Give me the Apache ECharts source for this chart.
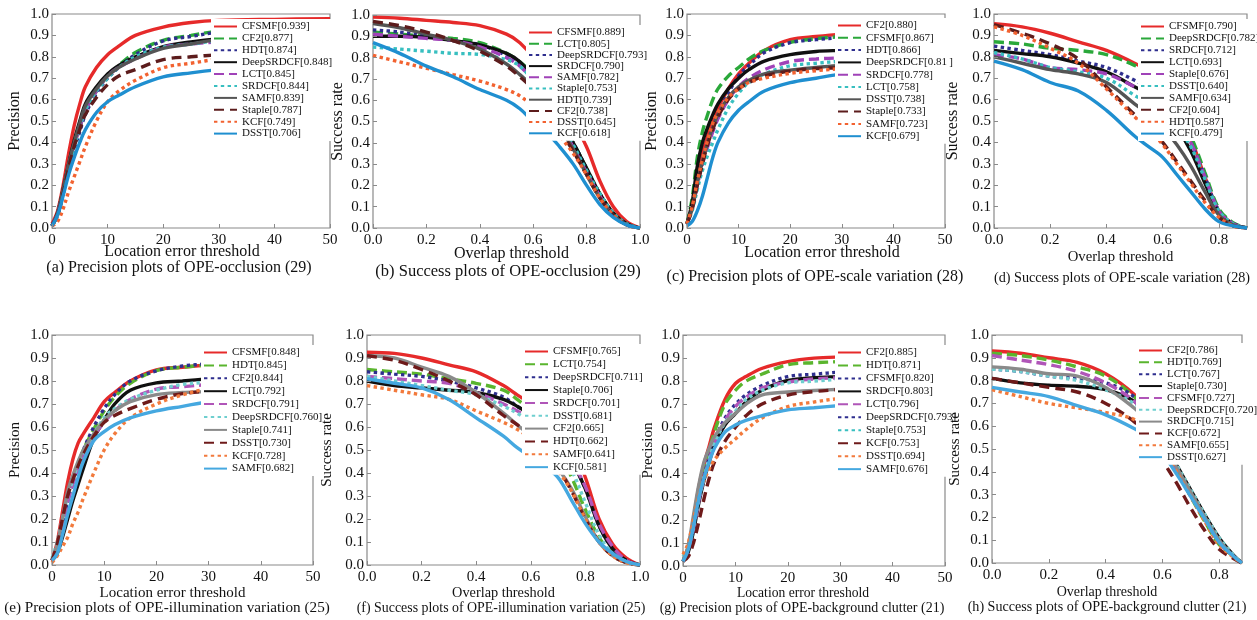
<!DOCTYPE html>
<html><head><meta charset="utf-8">
<script src="https://cdn.jsdelivr.net/npm/echarts@6/dist/echarts.min.js"></script>
<style>html,body{margin:0;padding:0;background:#fff}#c{width:1257px;height:620px}</style>
</head><body><div id="c"></div>
<script>
// ---------- x samples ----------
const precX = [0,1,2,3,4,5,6,8,10,12,15,20,25,30,40,50];
const succX = [0,0.1,0.2,0.3,0.4,0.5,0.55,0.6,0.65,0.7,0.75,0.8,0.85,0.9,0.95,1.0];
const succX09 = [0,0.1,0.2,0.3,0.4,0.5,0.55,0.6,0.65,0.7,0.75,0.8,0.85,0.9];
const succX088 = [0,0.1,0.2,0.3,0.4,0.5,0.55,0.6,0.65,0.7,0.75,0.8,0.85,0.88];

// ---------- (a) Precision plots of OPE-occlusion ----------
const aNames = ['CFSMF[0.939]','CF2[0.877]','HDT[0.874]','DeepSRDCF[0.848]','LCT[0.845]','SRDCF[0.844]','SAMF[0.839]','Staple[0.787]','KCF[0.749]','DSST[0.706]'];
const aValues = [
 [0.02,0.08,0.20,0.35,0.48,0.58,0.66,0.75,0.81,0.85,0.90,0.939,0.96,0.97,0.975,0.978],
 [0.01,0.06,0.17,0.29,0.39,0.47,0.55,0.64,0.71,0.76,0.82,0.877,0.90,0.92,0.935,0.942],
 [0.01,0.06,0.16,0.28,0.37,0.45,0.53,0.63,0.70,0.75,0.81,0.874,0.895,0.915,0.925,0.93],
 [0.01,0.07,0.18,0.30,0.41,0.50,0.58,0.66,0.72,0.76,0.80,0.848,0.87,0.885,0.905,0.92],
 [0.01,0.07,0.17,0.29,0.39,0.47,0.55,0.64,0.71,0.75,0.79,0.845,0.86,0.87,0.885,0.895],
 [0.01,0.06,0.16,0.28,0.38,0.47,0.55,0.64,0.70,0.75,0.80,0.844,0.86,0.875,0.885,0.89],
 [0.01,0.07,0.18,0.30,0.40,0.49,0.57,0.65,0.71,0.75,0.79,0.839,0.86,0.88,0.895,0.905],
 [0.01,0.06,0.16,0.28,0.38,0.46,0.53,0.61,0.67,0.71,0.74,0.787,0.80,0.81,0.83,0.845],
 [0.01,0.03,0.09,0.17,0.24,0.31,0.38,0.50,0.59,0.64,0.69,0.749,0.77,0.79,0.82,0.845],
 [0.01,0.06,0.15,0.25,0.33,0.40,0.46,0.54,0.59,0.62,0.66,0.706,0.725,0.74,0.765,0.785]
];
// ---------- (b) Success plots of OPE-occlusion ----------
const bNames = ['CFSMF[0.889]','LCT[0.805]','DeepSRDCF[0.793]','SRDCF[0.790]','SAMF[0.782]','Staple[0.753]','HDT[0.739]','CF2[0.738]','DSST[0.645]','KCF[0.618]'];
const bValues = [
 [0.99,0.985,0.975,0.965,0.95,0.91,0.87,0.80,0.70,0.60,0.50,0.38,0.22,0.10,0.03,0],
 [0.92,0.91,0.90,0.89,0.87,0.82,0.78,0.72,0.62,0.50,0.40,0.28,0.16,0.07,0.02,0],
 [0.93,0.92,0.90,0.88,0.86,0.81,0.77,0.71,0.61,0.50,0.40,0.28,0.16,0.07,0.02,0],
 [0.90,0.90,0.895,0.88,0.86,0.82,0.78,0.71,0.61,0.50,0.40,0.28,0.16,0.07,0.02,0],
 [0.91,0.90,0.89,0.88,0.85,0.80,0.76,0.69,0.59,0.48,0.38,0.26,0.15,0.06,0.015,0],
 [0.85,0.84,0.83,0.82,0.815,0.79,0.76,0.69,0.60,0.50,0.39,0.27,0.16,0.07,0.02,0],
 [0.96,0.94,0.91,0.88,0.84,0.77,0.72,0.66,0.57,0.47,0.37,0.25,0.14,0.06,0.015,0],
 [0.97,0.95,0.92,0.88,0.83,0.76,0.71,0.65,0.56,0.46,0.36,0.25,0.14,0.06,0.015,0],
 [0.81,0.78,0.75,0.72,0.69,0.65,0.62,0.57,0.50,0.43,0.35,0.25,0.14,0.06,0.015,0],
 [0.87,0.82,0.76,0.71,0.65,0.60,0.56,0.50,0.45,0.38,0.30,0.20,0.11,0.05,0.015,0]
];
// ---------- (c) Precision plots of OPE-scale variation ----------
const cNames = ['CF2[0.880]','CFSMF[0.867]','HDT[0.866]','DeepSRDCF[0.81\u2009]','SRDCF[0.778]','LCT[0.758]','DSST[0.738]','Staple[0.733]','SAMF[0.723]','KCF[0.679]'];
const cValues = [
 [0.02,0.10,0.24,0.35,0.43,0.50,0.56,0.65,0.72,0.77,0.83,0.88,0.895,0.905,0.915,0.92],
 [0.02,0.14,0.33,0.45,0.53,0.60,0.65,0.71,0.75,0.79,0.83,0.867,0.885,0.895,0.92,0.933],
 [0.02,0.10,0.22,0.32,0.40,0.47,0.53,0.63,0.71,0.76,0.82,0.866,0.88,0.89,0.90,0.91],
 [0.02,0.12,0.29,0.40,0.47,0.53,0.58,0.65,0.70,0.74,0.78,0.81,0.825,0.83,0.84,0.848],
 [0.02,0.09,0.20,0.30,0.38,0.45,0.51,0.60,0.66,0.70,0.74,0.778,0.79,0.795,0.80,0.805],
 [0.02,0.08,0.18,0.27,0.34,0.40,0.46,0.56,0.63,0.68,0.72,0.758,0.77,0.78,0.80,0.82],
 [0.02,0.09,0.21,0.31,0.40,0.47,0.53,0.61,0.66,0.69,0.72,0.738,0.75,0.76,0.77,0.78],
 [0.02,0.09,0.20,0.30,0.39,0.46,0.52,0.60,0.65,0.68,0.71,0.733,0.745,0.75,0.77,0.79],
 [0.02,0.10,0.22,0.32,0.41,0.49,0.54,0.61,0.65,0.68,0.70,0.723,0.735,0.745,0.765,0.785],
 [0.01,0.03,0.08,0.15,0.24,0.33,0.40,0.49,0.55,0.59,0.64,0.679,0.70,0.72,0.75,0.775]
];
// ---------- (d) Success plots of OPE-scale variation ----------
const dNames = ['CFSMF[0.790]','DeepSRDCF[0.782]','SRDCF[0.712]','LCT[0.693]','Staple[0.676]','DSST[0.640]','SAMF[0.634]','CF2[0.604]','HDT[0.587]','KCF[0.479]'];
const dValues = [
 [0.955,0.94,0.91,0.87,0.83,0.77,0.73,0.66,0.56,0.42,0.24,0.08,0.02,0],
 [0.87,0.86,0.84,0.83,0.81,0.76,0.72,0.65,0.55,0.43,0.26,0.09,0.025,0],
 [0.85,0.83,0.81,0.78,0.75,0.69,0.65,0.59,0.51,0.40,0.24,0.08,0.02,0],
 [0.83,0.815,0.80,0.77,0.73,0.66,0.62,0.55,0.47,0.36,0.21,0.07,0.02,0],
 [0.81,0.79,0.75,0.74,0.72,0.66,0.62,0.57,0.50,0.40,0.24,0.08,0.02,0],
 [0.82,0.79,0.75,0.73,0.70,0.62,0.58,0.53,0.47,0.38,0.23,0.08,0.02,0],
 [0.80,0.77,0.74,0.72,0.68,0.58,0.53,0.47,0.39,0.29,0.17,0.06,0.015,0],
 [0.95,0.91,0.86,0.79,0.66,0.53,0.47,0.40,0.31,0.22,0.13,0.05,0.01,0],
 [0.94,0.90,0.84,0.77,0.65,0.52,0.46,0.39,0.30,0.21,0.12,0.05,0.01,0],
 [0.78,0.74,0.68,0.64,0.55,0.43,0.38,0.33,0.25,0.17,0.09,0.03,0.01,0]
];
// ---------- (e) Precision plots of OPE-illumination variation ----------
const eNames = ['CFSMF[0.848]','HDT[0.845]','CF2[0.844]','LCT[0.792]','SRDCF[0.791]','DeepSRDCF[0.760]','Staple[0.741]','DSST[0.730]','KCF[0.728]','SAMF[0.682]'];
const eValues = [
 [0.02,0.10,0.23,0.36,0.46,0.53,0.57,0.64,0.71,0.75,0.80,0.848,0.86,0.87,0.89,0.905],
 [0.02,0.08,0.18,0.28,0.36,0.43,0.50,0.59,0.67,0.73,0.79,0.845,0.86,0.87,0.885,0.90],
 [0.02,0.08,0.18,0.28,0.36,0.43,0.50,0.60,0.68,0.74,0.80,0.844,0.865,0.875,0.89,0.905],
 [0.02,0.05,0.12,0.20,0.28,0.35,0.42,0.55,0.63,0.70,0.76,0.792,0.80,0.81,0.83,0.84],
 [0.02,0.08,0.17,0.27,0.35,0.42,0.48,0.56,0.62,0.67,0.72,0.765,0.775,0.785,0.80,0.81],
 [0.03,0.10,0.20,0.30,0.37,0.44,0.49,0.57,0.64,0.68,0.72,0.76,0.785,0.795,0.81,0.82],
 [0.02,0.09,0.20,0.32,0.39,0.45,0.50,0.57,0.63,0.67,0.71,0.741,0.75,0.755,0.77,0.78],
 [0.02,0.09,0.20,0.30,0.37,0.43,0.48,0.56,0.62,0.65,0.68,0.72,0.745,0.755,0.765,0.775],
 [0.01,0.04,0.08,0.12,0.18,0.23,0.29,0.40,0.50,0.57,0.64,0.70,0.74,0.765,0.78,0.79],
 [0.02,0.05,0.13,0.22,0.30,0.38,0.45,0.54,0.58,0.61,0.64,0.67,0.69,0.71,0.735,0.755]
];
// ---------- (f) Success plots of OPE-illumination variation ----------
const fNames = ['CFSMF[0.765]','LCT[0.754]','DeepSRDCF[0.711]','Staple[0.706]','SRDCF[0.701]','DSST[0.681]','CF2[0.665]','HDT[0.662]','SAMF[0.641]','KCF[0.581]'];
const fValues = [
 [0.925,0.92,0.90,0.87,0.84,0.78,0.74,0.70,0.64,0.58,0.52,0.38,0.20,0.09,0.03,0],
 [0.85,0.84,0.83,0.81,0.79,0.76,0.72,0.67,0.60,0.50,0.38,0.24,0.12,0.05,0.015,0],
 [0.84,0.83,0.82,0.80,0.77,0.73,0.69,0.65,0.59,0.52,0.45,0.33,0.17,0.07,0.02,0],
 [0.80,0.78,0.77,0.76,0.75,0.72,0.69,0.65,0.59,0.52,0.45,0.33,0.17,0.07,0.02,0],
 [0.82,0.81,0.80,0.79,0.75,0.70,0.67,0.63,0.58,0.52,0.45,0.34,0.18,0.08,0.02,0],
 [0.82,0.80,0.78,0.76,0.74,0.69,0.66,0.62,0.56,0.49,0.41,0.27,0.13,0.05,0.015,0],
 [0.91,0.90,0.86,0.82,0.75,0.66,0.61,0.56,0.49,0.42,0.33,0.21,0.10,0.04,0.01,0],
 [0.91,0.89,0.85,0.80,0.74,0.65,0.61,0.56,0.49,0.42,0.32,0.20,0.10,0.04,0.01,0],
 [0.78,0.76,0.74,0.72,0.67,0.62,0.59,0.55,0.49,0.41,0.32,0.20,0.10,0.04,0.01,0],
 [0.81,0.79,0.77,0.72,0.64,0.56,0.51,0.47,0.43,0.38,0.28,0.18,0.10,0.05,0.015,0]
];
// ---------- (g) Precision plots of OPE-background clutter ----------
const gNames = ['CF2[0.885]','HDT[0.871]','CFSMF[0.820]','SRDCF[0.803]','LCT[0.796]','DeepSRDCF[0.793]','Staple[0.753]','KCF[0.753]','DSST[0.694]','SAMF[0.676]'];
const gValues = [
 [0.02,0.08,0.20,0.34,0.44,0.52,0.60,0.72,0.79,0.82,0.855,0.885,0.90,0.905,0.91,0.915],
 [0.02,0.08,0.19,0.32,0.42,0.50,0.58,0.70,0.76,0.80,0.83,0.871,0.88,0.885,0.90,0.92],
 [0.02,0.07,0.17,0.29,0.39,0.47,0.54,0.64,0.70,0.74,0.78,0.82,0.83,0.84,0.86,0.89],
 [0.02,0.06,0.15,0.27,0.37,0.45,0.52,0.61,0.66,0.71,0.76,0.803,0.815,0.82,0.83,0.84],
 [0.02,0.06,0.16,0.28,0.38,0.46,0.53,0.63,0.69,0.73,0.77,0.796,0.81,0.815,0.825,0.83],
 [0.04,0.08,0.17,0.29,0.38,0.46,0.53,0.62,0.67,0.72,0.76,0.793,0.80,0.81,0.83,0.86],
 [0.02,0.09,0.22,0.35,0.45,0.51,0.56,0.62,0.66,0.70,0.74,0.753,0.76,0.765,0.775,0.79],
 [0.02,0.04,0.10,0.19,0.29,0.38,0.45,0.54,0.60,0.65,0.70,0.74,0.755,0.765,0.79,0.82],
 [0.05,0.10,0.20,0.30,0.37,0.42,0.46,0.51,0.55,0.59,0.64,0.69,0.71,0.725,0.74,0.76],
 [0.02,0.07,0.17,0.29,0.38,0.45,0.51,0.58,0.61,0.63,0.65,0.676,0.685,0.695,0.715,0.74]
];
// ---------- (h) Success plots of OPE-background clutter ----------
const hNames = ['CF2[0.786]','HDT[0.769]','LCT[0.767]','Staple[0.730]','CFSMF[0.727]','DeepSRDCF[0.720]','SRDCF[0.715]','KCF[0.672]','SAMF[0.655]','DSST[0.627]'];
const hValues = [
 [0.93,0.92,0.90,0.88,0.83,0.74,0.66,0.54,0.42,0.30,0.19,0.09,0.03,0],
 [0.92,0.91,0.89,0.86,0.82,0.73,0.65,0.53,0.41,0.29,0.18,0.08,0.03,0],
 [0.85,0.84,0.82,0.81,0.79,0.73,0.65,0.54,0.42,0.31,0.20,0.10,0.03,0],
 [0.81,0.79,0.78,0.775,0.76,0.71,0.64,0.54,0.43,0.32,0.21,0.11,0.035,0],
 [0.91,0.89,0.87,0.84,0.79,0.71,0.63,0.52,0.41,0.30,0.19,0.09,0.03,0],
 [0.85,0.84,0.82,0.80,0.76,0.70,0.64,0.54,0.43,0.32,0.21,0.11,0.035,0],
 [0.86,0.85,0.83,0.82,0.77,0.68,0.62,0.53,0.42,0.31,0.20,0.10,0.03,0],
 [0.81,0.79,0.77,0.75,0.70,0.62,0.55,0.45,0.35,0.24,0.14,0.06,0.02,0],
 [0.76,0.73,0.70,0.68,0.66,0.63,0.58,0.50,0.40,0.29,0.18,0.08,0.025,0],
 [0.77,0.75,0.73,0.69,0.65,0.59,0.55,0.48,0.39,0.29,0.19,0.09,0.03,0]
];

// ---------- text ----------
const captions = [
 '(a) Precision plots of OPE-occlusion (29)',
 '(b) Success plots of OPE-occlusion (29)',
 '(c) Precision plots of OPE-scale variation (28)',
 '(d) Success plots of OPE-scale variation (28)',
 '(e) Precision plots of OPE-illumination variation (25)',
 '(f) Success plots of OPE-illumination variation (25)',
 '(g) Precision plots of OPE-background clutter (21)',
 '(h) Success plots of OPE-background clutter (21)'
];

// ---------- layout & style (not data) ----------
const FONT = '"Liberation Serif","Times New Roman",serif';
// g: grid [left, top, width, height]; yl: y-name gap; xn: [x-name center y, x shift, font]; cap: [cx, cy, font]; lg: [left, top, itemGap]
const panels = [
 {names:aNames, vals:aValues, xs:precX, kind:'p', g:[52,14,278,214], yl:29, yf:16, xn:[252,-9,16], cap:[179,268,16], lg:[211,19,0.9]},
 {names:bNames, vals:bValues, xs:succX, kind:'s', max:1, g:[373,15,267,213], yl:27, yf:16, xn:[254,5,16], cap:[508,271,16.5], lg:[526,25,0.2]},
 {names:cNames, vals:cValues, xs:precX, kind:'p', g:[687,14,258,214], yl:27, yf:16, xn:[253,6,16], cap:[815,277,16], lg:[835,18,1.3]},
 {names:dNames, vals:dValues, xs:succX09, kind:'s', max:0.9, g:[994,14,253,214], yl:33, yf:16, xn:[257,0,14.7], cap:[1122,278,14.2], lg:[1138,19,0.9]},
 {names:eNames, vals:eValues, xs:precX, kind:'p', g:[52,335,261,230], yl:29.5, yf:15, xn:[593,-10,15], cap:[167,608,15.2], lg:[201,345,1.9]},
 {names:fNames, vals:fValues, xs:succX, kind:'s', max:1, g:[367,335,273,230], yl:32.5, yf:15, xn:[593,0,14.3], cap:[501,608,13.9], lg:[522,344,1.85]},
 {names:gNames, vals:gValues, xs:precX, kind:'p', g:[683,335,262,231], yl:27.5, yf:15, xn:[593,-11,13.6], cap:[802,608,14], lg:[835,345,1.96]},
 {names:hNames, vals:hValues, xs:succX088, kind:'s', max:0.88, g:[992,335,250,228], yl:29.5, yf:15, xn:[592,-10,14], cap:[1107,607,14.1], lg:[1136,343,0.85]}
];
const STY_TOP = ['#e62a2a','#2aa83a','#2e2e8e','#101010','#a042b8','#38bfc0','#555555','#5c1c1c','#f26230','#1f8fd0'];
const STY_BOT = ['#e62a2a','#5ab52e','#2e2e8e','#101010','#b055b8','#6fcfcf','#8a8a8a','#6e1a1a','#f27a3c','#45a8e0'];
const TYPES = ['solid',[10,5],[3.4,3.4],'solid',[10,5],[3.4,3.4],'solid',[10,6],[3.4,3.4],'solid'];

const grids=[], xAxes=[], yAxes=[], series=[], legends=[], titles=[];
panels.forEach((p, i) => {
  const top = i < 4;
  grids.push({left:p.g[0], top:p.g[1], width:p.g[2], height:p.g[3], show:true, borderColor:'#8a8a8a', borderWidth:1.2});
  const isP = p.kind === 'p';
  const sh = p.xn[1];
  const axisBottom = p.g[1] + p.g[3];
  xAxes.push({
    type:'value', gridIndex:i, min:0, max: isP ? 50 : p.max, interval: isP ? 10 : 0.2, z:20,
    name: isP ? 'Location error threshold' : 'Overlap threshold',
    nameLocation:'middle', nameGap: p.xn[0] - axisBottom - p.xn[2] / 2, nameMoveOverlap:false,
    nameTextStyle:{fontFamily:FONT, fontSize:p.xn[2], color:'#111', padding: sh < 0 ? [0,-2*sh,0,0] : [0,0,0,2*sh]},
    axisLine:{show:false}, splitLine:{show:false},
    axisTick:{show:true, inside:true, length:4, lineStyle:{color:'#8a8a8a'}},
    axisLabel:{fontFamily:FONT, fontSize:15, color:'#111', margin:5, showMaxLabel: isP || p.max === 1,
      formatter: v => isP ? String(Math.round(v)) : v.toFixed(1)}
  });
  yAxes.push({
    type:'value', gridIndex:i, min:0, max:1, interval:0.1, z:20,
    name: isP ? 'Precision' : 'Success rate',
    nameLocation:'middle', nameGap:p.yl, nameMoveOverlap:false,
    nameTextStyle:{fontFamily:FONT, fontSize:p.yf, color:'#111'},
    axisLine:{show:false}, splitLine:{show:false},
    axisTick:{show:true, inside:true, length:4, lineStyle:{color:'#8a8a8a'}},
    axisLabel:{fontFamily:FONT, fontSize:15, color:'#111', margin:3, formatter: v => v.toFixed(1)}
  });
  const cols = top ? STY_TOP : STY_BOT;
  p.names.forEach((n, k) => {
    series.push({
      type:'line', name:n, xAxisIndex:i, yAxisIndex:i,
      data: p.xs.map((x, j) => [x, p.vals[k][j]]),
      smooth:0.35, symbol:'none', showSymbol:false, silent:true,
      lineStyle:{color:cols[k], width:3.4, type:TYPES[k], cap:'butt'},
      itemStyle:{color:cols[k]}
    });
  });
  legends.push({
    data:p.names, orient:'vertical', left:p.lg[0], top:p.lg[1],
    itemWidth:23, itemHeight:8, itemGap:p.lg[2], padding:[2,2,2,2],
    backgroundColor:'#fff', selectedMode:false, z:10,
    itemStyle:{opacity:0},
    textStyle:{fontFamily:FONT, fontSize:11, color:'#111', lineHeight:10}
  });
  titles.push({text:captions[i], left:p.cap[0], top:p.cap[1]-p.cap[2]/2, textAlign:'center', padding:0, z:20,
    textStyle:{fontFamily:FONT, fontSize:p.cap[2], fontWeight:'normal', color:'#111'}});
});

const chart = echarts.init(document.getElementById('c'), null, {renderer:'canvas'});
chart.setOption({
  animation:false, backgroundColor:'#fff',
  title:titles, grid:grids, xAxis:xAxes, yAxis:yAxes, legend:legends, series:series
});
</script></body></html>
